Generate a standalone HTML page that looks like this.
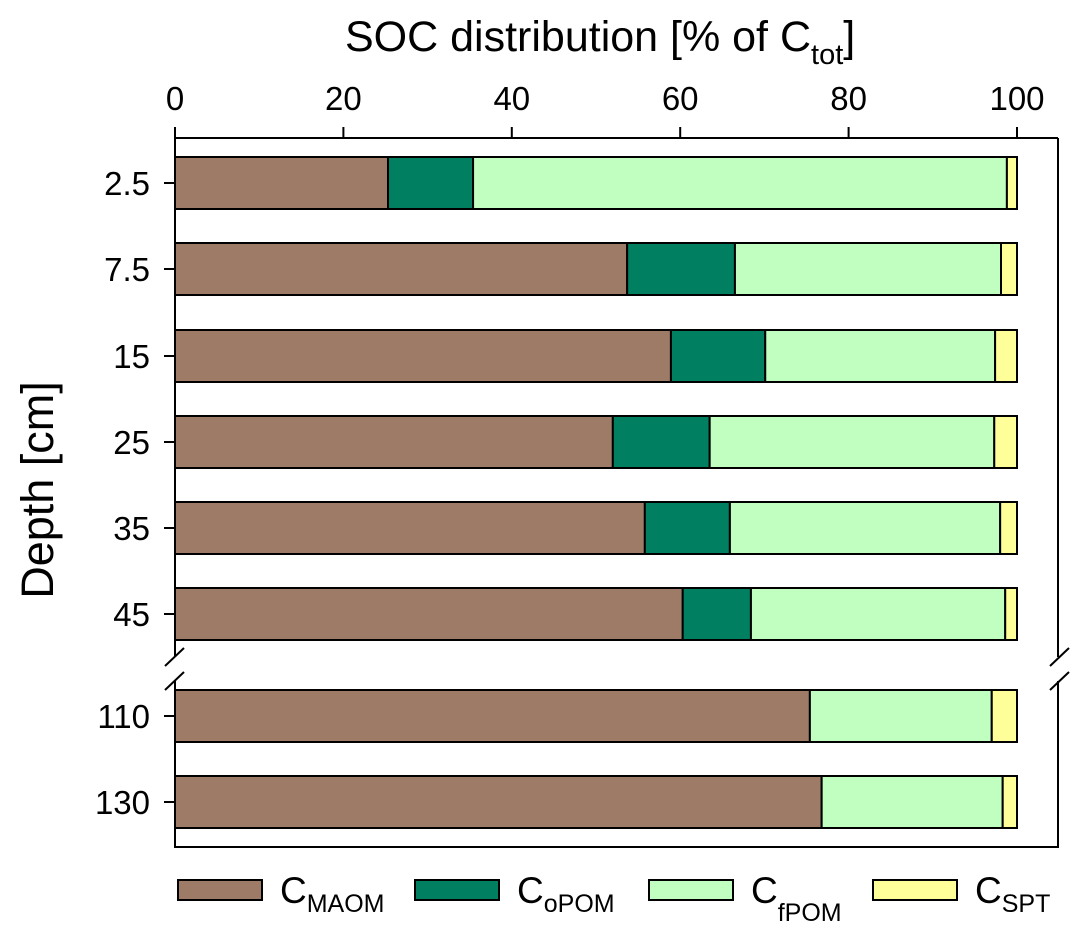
<!DOCTYPE html>
<html><head><meta charset="utf-8"><style>
body{margin:0;background:#fff;width:1087px;height:940px;overflow:hidden}
svg text{font-family:"Liberation Sans",sans-serif;fill:#000}
</style></head><body>
<svg id="chart" width="1087" height="940" xmlns="http://www.w3.org/2000/svg"></svg>
<script>
const depths=["2.5","7.5","15","25","35","45","110","130"];
const maom=[25.3,53.7,58.9,52.0,55.8,60.3,75.4,76.8];
const opom=[10.1,12.8,11.2,11.5,10.1,8.1,0,0];
const fpom=[63.4,31.6,27.3,33.8,32.1,30.2,21.6,21.5];
const spt=[1.2,1.9,2.6,2.7,2.0,1.4,3.0,1.7];
const xTicks=[0,20,40,60,80,100];
const barTops=[157,243,330,416,502,588,690,776];
const colors=["#9E7B67","#008060","#C0FFC0","#FFFF99"];
const names=["maom","opom","fpom","spt"];
const X0=175,X1=1017;
const xs=v=>X0+(X1-X0)*v/100;
const NS="http://www.w3.org/2000/svg";
const svg=document.getElementById('chart');
function mk(t,a,p){const e=document.createElementNS(NS,t);for(const k in a)e.setAttribute(k,a[k]);(p||svg).appendChild(e);return e;}
let e;
e=mk('line',{x1:175,y1:138,x2:1058,y2:138,stroke:'#000','stroke-width':2});


e=mk('path',{d:'M175,138V657 M175,681V847H1058V681 M1058,657V138',fill:'none',stroke:'#000','stroke-width':2});


e=mk('path',{d:'M165,666L184,648 M165,690L184,672 M1050,666L1069,648 M1050,690L1069,672',stroke:'#000','stroke-width':2});


xTicks.forEach(t=>{
  const x=xs(t);
  e=mk('line',{x1:x,y1:127,x2:x,y2:138,stroke:'#000','stroke-width':2});
  
  
  e=mk('text',{x:x,y:110,'font-size':33,'text-anchor':'middle'});e.textContent=t;
  
  
});
e=mk('text',{x:345,y:51,'font-size':43});
e.innerHTML='SOC distribution [% of C<tspan font-size="29" dy="13">tot</tspan><tspan dy="-13">]</tspan>';


e=mk('text',{x:0,y:0,'font-size':45,'text-anchor':'middle',transform:'translate(53,490) rotate(-90)'});e.textContent='Depth [cm]';


const series=[maom,opom,fpom,spt];
depths.forEach((d,i)=>{
  const y=barTops[i],h=52;
  e=mk('line',{x1:164,y1:y+h/2,x2:175,y2:y+h/2,stroke:'#000','stroke-width':2});
  
  
  e=mk('text',{x:150,y:y+h/2+12,'font-size':33,'text-anchor':'end'});e.textContent=d;
  
  
  let cum=0;
  series.forEach((s,k)=>{
    const v=s[i];if(v<=0){return;}
    const r=mk('rect',{x:xs(cum),y:y,width:xs(cum+v)-xs(cum),height:h,fill:colors[k],stroke:'#000','stroke-width':2});
    
    
    cum+=v;
  });
});
const legX=[178,415,649,873];
const legLab=[['MAOM',0],['oPOM',0],['fPOM',9],['SPT',0]];
legX.forEach((x,k)=>{
  const g=mk('g',{});
  
  
  mk('rect',{x:x,y:880,width:84,height:20,fill:colors[k],stroke:'#000','stroke-width':2},g);
  const t=mk('text',{x:x+102,y:903,'font-size':37},g);
  t.innerHTML='C<tspan font-size="25" dy="'+(9+legLab[k][1])+'">'+legLab[k][0]+'</tspan>';
});
</script>
</body></html>
